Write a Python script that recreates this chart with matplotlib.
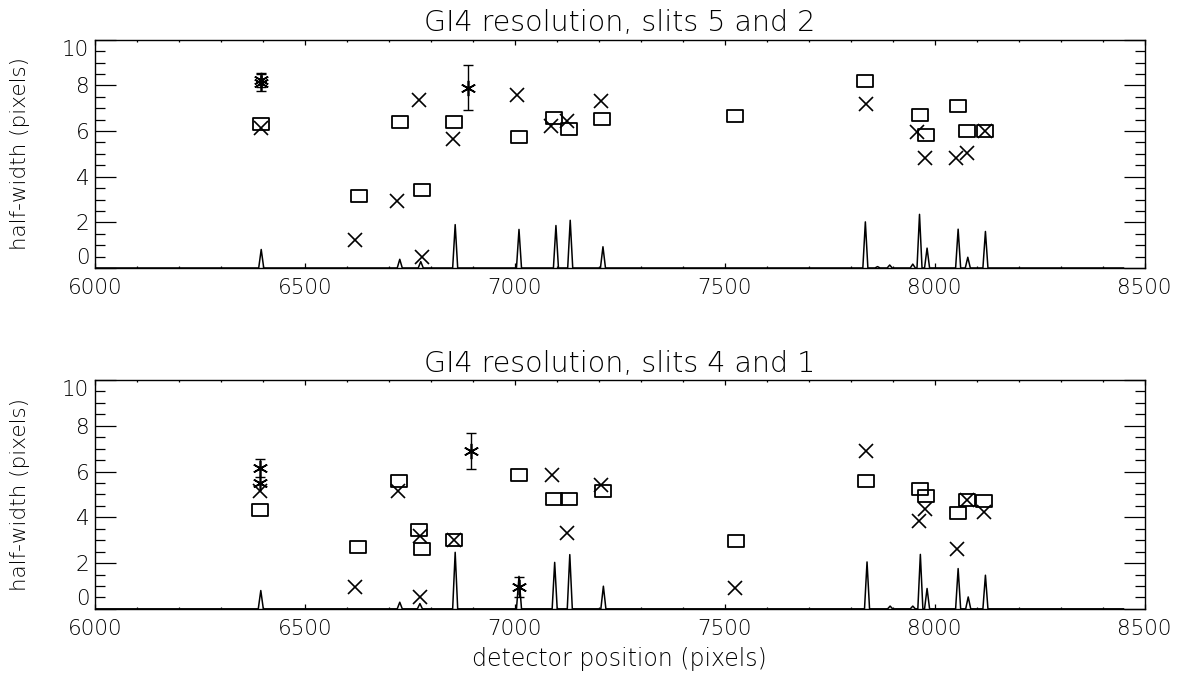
import matplotlib
matplotlib.use("Agg")
import matplotlib.pyplot as plt
from matplotlib.path import Path
from matplotlib.ticker import MultipleLocator

# slits 5 and 2
top_sq_x = [6396, 6628, 6726, 6778, 6856, 7010, 7094, 7130, 7208, 7525, 7835, 7964, 7980, 8056, 8077, 8119]
top_sq_y = [6.31, 3.14, 6.42, 3.40, 6.38, 5.73, 6.57, 6.09, 6.53, 6.67, 8.21, 6.69, 5.84, 7.11, 5.99, 6.02]
top_x_x = [6396, 6620, 6720, 6772, 6778, 6854, 7006, 7086, 7124, 7206, 7836, 7958, 7976, 8052, 8077, 8119]
top_x_y = [6.13, 1.22, 2.92, 7.35, 0.49, 5.65, 7.59, 6.24, 6.45, 7.30, 7.19, 5.94, 4.83, 4.80, 5.04, 6.02]
top_ast_x = [6396, 6396, 6888]
top_ast_y = [8.12, 8.24, 7.91]
top_ast_err = [0.38, 0.30, 1.00]
top_peak_x = [6396, 6726, 6776, 6858, 7010, 7098, 7132, 7210, 7835, 7864, 7893, 7948, 7964, 7982, 8056, 8079, 8121]
top_peak_h = [0.81, 0.38, 0.28, 1.90, 1.69, 1.86, 2.09, 0.93, 2.02, 0.06, 0.13, 0.17, 2.35, 0.87, 1.70, 0.47, 1.60]

# slits 4 and 1
bot_sq_x = [6394, 6626, 6724, 6771, 6778, 6856, 7010, 7094, 7130, 7210, 7526, 7837, 7964, 7980, 8056, 8078, 8117]
bot_sq_y = [4.33, 2.69, 5.60, 3.43, 2.62, 3.02, 5.86, 4.80, 4.80, 5.13, 2.95, 5.58, 5.25, 4.91, 4.20, 4.74, 4.71]
bot_x_x = [6394, 6620, 6722, 6774, 6774, 6856, 7088, 7124, 7206, 7524, 7837, 7962, 7976, 8054, 8078, 8117]
bot_x_y = [5.13, 0.96, 5.16, 3.20, 0.52, 3.02, 5.86, 3.31, 5.42, 0.89, 6.89, 3.84, 4.37, 2.63, 4.74, 4.23]
bot_ast_x = [6394, 6394, 6896, 7010]
bot_ast_y = [6.15, 5.49, 6.90, 0.96]
bot_ast_err = [0.40, 0.00, 0.80, 0.45]
bot_peak_x = [6395, 6726, 6774, 6858, 7010, 7095, 7131, 7211, 7839, 7894, 7948, 7966, 7982, 8056, 8080, 8121]
bot_peak_h = [0.80, 0.29, 0.23, 2.47, 1.42, 2.03, 2.37, 0.99, 2.05, 0.12, 0.12, 2.38, 0.89, 1.76, 0.52, 1.47]

titles = ["GI4 resolution, slits 5 and 2", "GI4 resolution, slits 4 and 1"]
y_ticks = [0, 2, 4, 6, 8, 10]
x_ticks = [6000, 6500, 7000, 7500, 8000, 8500]

plt.rcParams['font.family'] = 'DejaVu Sans'
plt.rcParams['font.weight'] = 'light'
plt.rcParams['axes.titleweight'] = 'light'
plt.rcParams['axes.labelweight'] = 'light'

# open rectangle like the IDL square symbol
box = Path([(-1, -0.8), (1, -0.8), (1, 0.8), (-1, 0.8), (-1, -0.8)],
           [Path.MOVETO, Path.LINETO, Path.LINETO, Path.LINETO, Path.CLOSEPOLY])


def spectrum(px, ph, x0=6000, x1=8450, hw=6):
    xs, ys = [x0], [0]
    for x, h in sorted(zip(px, ph)):
        xs += [x - hw, x, x + hw]
        ys += [0, h, 0]
    xs.append(x1)
    ys.append(0)
    return xs, ys


def panel(ax, title, sqx, sqy, xx, xy, ax_x, ax_y, ax_err, pkx, pkh, xlabel=False):
    sx, sy = spectrum(pkx, pkh)
    ax.plot(sx, sy, color='black', lw=1.1)
    ax.plot(sqx, sqy, ls='none', marker=box, ms=11.5, mfc='none', mec='black', mew=1.3)
    ax.plot(xx, xy, ls='none', marker='x', ms=10.5, mec='black', mew=1.2)
    ax.plot(ax_x, ax_y, ls='none', marker=(6, 2, 0), ms=11, mec='black', mew=1.2)
    ex = [x for x, e in zip(ax_x, ax_err) if e > 0]
    ey = [y for y, e in zip(ax_y, ax_err) if e > 0]
    ee = [e for e in ax_err if e > 0]
    ax.errorbar(ex, ey, yerr=ee, fmt='none', ecolor='black', elinewidth=1.0, capsize=3.5, capthick=1.0)

    ax.set_xticks(x_ticks, [str(v) for v in x_ticks])
    ax.set_yticks(y_ticks, [str(v) for v in y_ticks])
    ax.set_xlim(6000, 8500)
    ax.set_ylim(0, 10)
    ax.xaxis.set_minor_locator(MultipleLocator(100))
    ax.yaxis.set_minor_locator(MultipleLocator(0.5))
    ax.tick_params(which='both', direction='in', top=True, right=True, width=0.9, labelsize=15.5)
    ax.tick_params(axis='x', which='major', length=3.3, pad=7)
    ax.tick_params(axis='x', which='minor', length=1.7)
    ax.tick_params(axis='y', which='major', length=15, pad=4)
    ax.tick_params(axis='y', which='minor', length=7.5)
    # end labels sit inside the axis range, as IDL draws them
    ylabs = ax.get_yticklabels()
    ylabs[0].set_va('bottom')
    ylabs[-1].set_va('top')
    for s in ax.spines.values():
        s.set_linewidth(1.0)
    ax.set_title(title, fontsize=20.5, pad=6)
    ax.set_ylabel('half-width (pixels)', fontsize=15.5)
    ax.yaxis.set_label_coords(-0.062, 0.5)
    if xlabel:
        ax.set_xlabel('detector position (pixels)', fontsize=17)
        ax.xaxis.set_label_coords(0.5, -0.165)


fig = plt.figure(figsize=(11.9, 6.75), dpi=100)
ax1 = fig.add_axes([0.0798, 0.603, 0.882, 0.338])
ax2 = fig.add_axes([0.0798, 0.098, 0.882, 0.339])

panel(ax1, titles[0], top_sq_x, top_sq_y, top_x_x, top_x_y,
      top_ast_x, top_ast_y, top_ast_err, top_peak_x, top_peak_h)
panel(ax2, titles[1], bot_sq_x, bot_sq_y, bot_x_x, bot_x_y,
      bot_ast_x, bot_ast_y, bot_ast_err, bot_peak_x, bot_peak_h, xlabel=True)

fig.savefig('out.png', dpi=100)
